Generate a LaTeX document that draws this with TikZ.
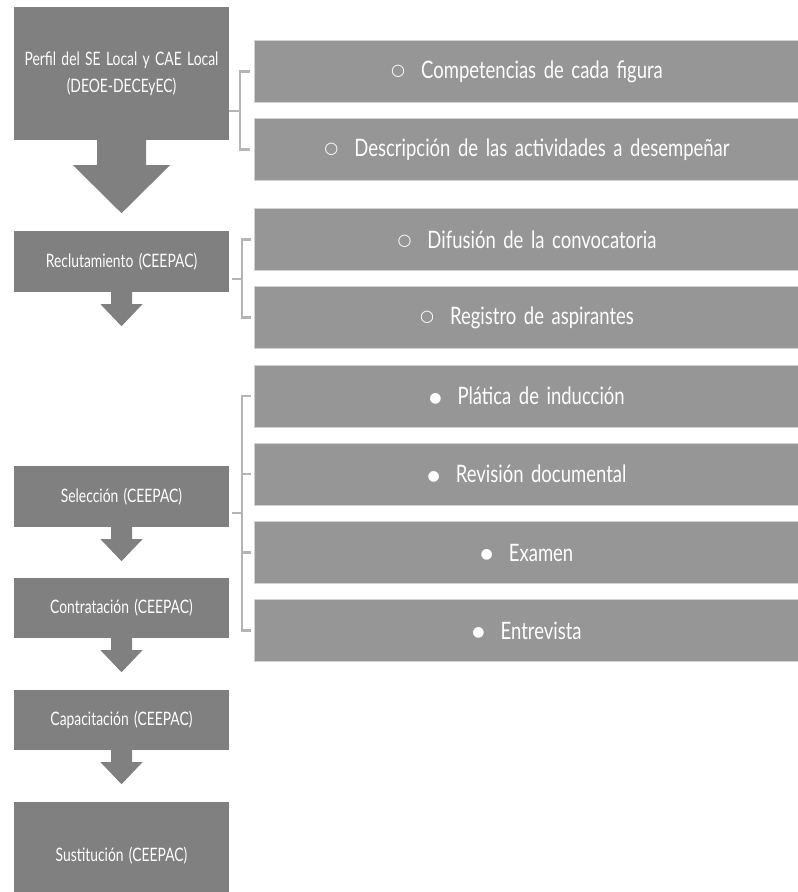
\documentclass[tikz,border=0pt]{standalone}
\usepackage{fontspec}
\setmainfont[FakeStretch=0.75,WordSpace=1.5]{Lato}
\newfontfamily\ancha[FakeStretch=0.77,WordSpace=1.6]{Lato}
\newfontfamily\simb{DejaVu Sans}
\usepackage{tikz}
\usetikzlibrary{positioning}

\definecolor{gris}{HTML}{808080}
\definecolor{grisclaro}{HTML}{969696}
\definecolor{borde}{HTML}{D2D2D2}
\definecolor{linea}{HTML}{B5B5B5}

\newcommand{\vacio}{\raisebox{2.5pt}{\simb\fontsize{16}{16}\selectfont ○}\hspace{16pt}}
\newcommand{\lleno}{\raisebox{2.5pt}{\simb\fontsize{14}{14}\selectfont ●}\hspace{16pt}}

\tikzset{
    paso/.style={fill=gris, text=white, minimum width=215pt, inner sep=0pt,
        align=center, font=\fontsize{18.5}{27}\selectfont},
    item/.style={fill=grisclaro, draw=borde, line width=0.8pt, text=white,
        minimum width=546pt, minimum height=62pt, inner sep=0pt,
        font=\ancha\fontsize{24}{28}\selectfont},
    llave/.style={draw=linea, line width=2.5pt}
}

\begin{document}
\begin{tikzpicture}[x=1pt, y=-1pt]
    \useasboundingbox (0,0) rectangle (798,892);
    \clip (0,0) rectangle (798,892);

    % etapas
    \node[paso, minimum height=133pt] (perfil) at (121.5,73.5) {Perfil del SE Local y CAE Local\\(DEOE-DECEyEC)};
    \node[paso, minimum height=61pt] (reclut) at (121.5,261.5) {Reclutamiento (CEEPAC)};
    \node[paso, minimum height=61pt] (selecc) at (121.5,496.5) {Selección (CEEPAC)};
    \node[paso, minimum height=60pt] (contrat) at (121.5,608) {Contratación (CEEPAC)};
    \node[paso, minimum height=60pt] (capac) at (121.5,720) {Capacitación (CEEPAC)};
    \node[paso, minimum height=108pt] (sustit) at (121.5,856) {Sustitución (CEEPAC)};

    % flechas
    \fill[gris] (perfil.south) ++(-24.5,0) -- ++(0,25) -- ++(-24,0) -- ++(48.5,48)
        -- ++(48.5,-48) -- ++(-24,0) -- ++(0,-25) -- cycle;
    \foreach \n in {reclut,selecc,contrat,capac} {
        \fill[gris] (\n.south) ++(-10.5,0) -- ++(0,12) -- ++(-10.5,0) -- ++(21,22)
            -- ++(21,-22) -- ++(-10.5,0) -- ++(0,-12) -- cycle;
    }

    % detalle
    \node[item] (comp) at (527,71.5) {\vacio Competencias de cada figura};
    \node[item] (desc) at (527,149.5) {\vacio Descripción de las actividades a desempeñar};
    \node[item] (difus) at (527,239.5) {\vacio Difusión de la convocatoria};
    \node[item] (regis) at (527,317.5) {\vacio Registro de aspirantes};
    \node[item] (platica) at (527,396) {\lleno Plática de inducción};
    \node[item] (revision) at (527,474) {\lleno Revisión documental};
    \node[item] (examen) at (527,552.5) {\lleno Examen};
    \node[item] (entrev) at (527,630.5) {\lleno Entrevista};

    % llaves
    \coordinate (k1) at (240,111);
    \draw[llave] (perfil.east |- k1) -- (k1);
    \draw[llave] ([xshift=-4pt]comp.west) -| (k1) |- ([xshift=-4pt]desc.west);

    \coordinate (k2) at (242,279);
    \draw[llave] ([xshift=3pt]reclut.east |- k2) -- (k2);
    \draw[llave] ([xshift=-3pt]difus.west) -| (k2) |- ([xshift=-3pt]regis.west);

    \coordinate (k3) at (242,513);
    \draw[llave] ([xshift=3pt]selecc.east |- k3) -- (k3);
    \draw[llave] ([xshift=-3pt]platica.west) -| (k3) |- ([xshift=-3pt]entrev.west);
    \foreach \n in {revision,examen} {
        \draw[llave] ([xshift=-3pt]\n.west) -- (\n.west -| k3);
    }
\end{tikzpicture}
\end{document}
